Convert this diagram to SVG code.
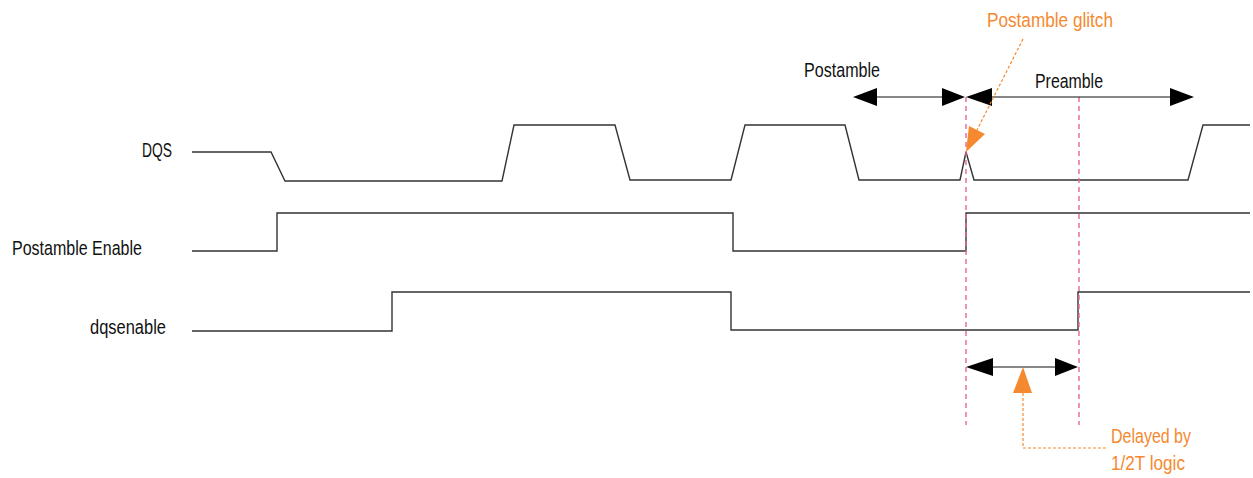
<svg xmlns="http://www.w3.org/2000/svg" width="1253" height="478" viewBox="0 0 1253 478">
<style>
.wave{fill:none;stroke:#333;stroke-width:1.4;stroke-linejoin:miter}
.lbl{font-family:"Liberation Sans",Arial,sans-serif;font-size:20.5px;fill:#111}
.org{font-family:"Liberation Sans",Arial,sans-serif;font-size:20.5px;fill:#F5892F}
.guide{stroke:#E8668F;stroke-width:1.4;stroke-dasharray:5,4;fill:none}
.dim{stroke:#111;stroke-width:1.2;fill:none}
.head{fill:#000}
.odash{stroke:#F5892F;stroke-width:1.2;stroke-dasharray:3,2;fill:none}
</style>
<rect width="1253" height="478" fill="#fff"/>
<g id="labels">
<text class="lbl" x="142" y="157" textLength="30" lengthAdjust="spacingAndGlyphs">DQS</text>
<text class="lbl" x="12" y="255" textLength="130" lengthAdjust="spacingAndGlyphs">Postamble Enable</text>
<text class="lbl" x="90" y="334" textLength="76" lengthAdjust="spacingAndGlyphs">dqsenable</text>
</g>
<g id="dqs">
<polyline class="wave" points="192,152 271,152 285,181 502,181 514,125 615,125 630,180 731,180 745,125 845,125 859,180 960,180 966,152 974,180 1188,180 1203,125 1250,125"/>
</g>
<g id="postamble-enable">
<polyline class="wave" points="192,251 277,251 277,213 733,213 733,251 966,251 966,213 1250,213"/>
</g>
<g id="dqsenable">
<polyline class="wave" points="192,331 392,331 392,292 731,292 731,330 1078,330 1078,292 1250,292"/>
</g>
<g id="connectors">
<line class="guide" x1="966" y1="97" x2="966" y2="425"/>
<line class="guide" x1="1079" y1="97" x2="1079" y2="425"/>
<line class="dim" x1="870" y1="97" x2="945" y2="97"/>
<polygon class="head" points="853,97 877,88 877,106"/>
<polygon class="head" points="965,97 942,88 942,106"/>
<line class="dim" x1="985" y1="97" x2="1175" y2="97"/>
<polygon class="head" points="966,97 992,88 992,106"/>
<polygon class="head" points="1194,97 1170,88 1170,106"/>
<line class="dim" x1="985" y1="367" x2="1060" y2="367"/>
<polygon class="head" points="966,367 993,358 993,376"/>
<polygon class="head" points="1078,367 1055,358 1055,376"/>
<line class="odash" x1="1023" y1="39" x2="977" y2="130"/>
<polygon fill="#F5892F" points="966,152 969,126 985,134"/>
<polygon fill="#F5892F" points="1023,367 1013,393 1032,393"/>
<polyline class="odash" points="1023,393 1023,448 1108,448"/>
</g>
<g id="annotations">
<text class="lbl" x="804" y="77" textLength="76" lengthAdjust="spacingAndGlyphs">Postamble</text>
<text class="lbl" x="1035" y="88" textLength="68" lengthAdjust="spacingAndGlyphs">Preamble</text>
<text class="org" x="987" y="27" textLength="126" lengthAdjust="spacingAndGlyphs">Postamble  glitch</text>
<text class="org" x="1111" y="443" textLength="80" lengthAdjust="spacingAndGlyphs">Delayed by</text>
<text class="org" x="1111" y="470" textLength="74" lengthAdjust="spacingAndGlyphs">1/2T logic</text>
</g>
</svg>
